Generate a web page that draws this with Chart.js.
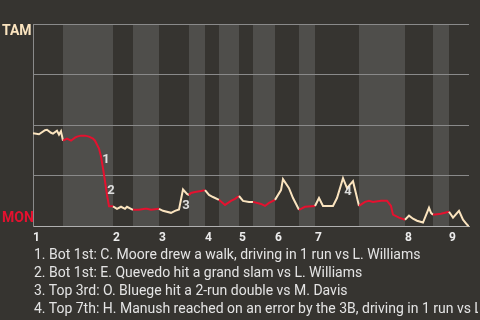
<!DOCTYPE html>
<html>
<head>
<meta charset="utf-8">
<script src="https://cdn.jsdelivr.net/npm/chart.js@4"></script>
<style>
  html, body { margin: 0; padding: 0; background: #363430; width: 480px; height: 320px; overflow: hidden; }
  canvas { display: block; }
  #notes { font-family: Roboto, "Noto Sans", sans-serif; font-size: 14px; line-height: 18px; color: #e4e4e4; padding-left: 34px; white-space: nowrap; overflow: hidden; width: 444px; margin-top: -4px; }
</style>
</head>
<body>
<canvas id="wpChart" width="480" height="249"></canvas>
<div id="notes"></div>
<script>
  // innings, where each half starts (play index)
  const innings = ['1', '2', '3', '4', '5', '6', '7', '8', '9'];
  const topStart = [0, 40, 63, 86, 103, 121, 141, 186, 208];
  const botStart = [15, 50, 78, 93, 110, 133, 163, 200];
  const gameEnd = 218;

  // win expectancy for TAM (%), by play index
  const playX = [0, 3, 6, 7, 9, 10, 12, 13, 14, 15,
    17, 19, 21, 22, 24, 26, 28, 30, 31, 33, 34, 35, 36, 37, 38, 40,
    42, 44, 46, 47, 49, 50,
    53, 56, 57, 59, 63,
    65, 69, 71, 73, 75, 77, 78,
    79, 81, 84, 86,
    88, 90, 93,
    96, 99, 101, 103,
    105, 108, 110,
    114, 116, 118, 121,
    124, 125, 128, 130, 133,
    136, 141,
    143, 145, 150, 152, 155, 157, 160, 163,
    166, 168, 170, 174, 177, 179, 180, 183, 186,
    188, 190, 192, 195, 196, 198, 199, 200,
    204, 206, 208,
    210, 213, 215, 217, 218];
  const winPct = [46.1, 45.6, 47.6, 47.8, 46.3, 45.9, 47.3, 45.4, 47.1, 42.4,
    43.4, 42.4, 43.9, 44.4, 44.9, 44.9, 44.4, 43.4, 42.4, 38.5, 34.6, 28.8, 22.4, 15.6, 10, 10,
    8.8, 9.8, 8.8, 9.8, 8.8, 8.3,
    8.3, 8.8, 8.8, 8.3, 8.8,
    7.8, 6.8, 7.8, 8.5, 18.3, 16.1, 15.6,
    16.6, 17.1, 17.6, 18,
    15.6, 14.6, 13.2,
    10.7, 12.7, 13.7, 15.1,
    12.7, 12.2, 12.2,
    11.2, 10.2, 11.7, 13.2,
    18, 23.4, 19, 14.1, 8.3,
    9.8, 10.2,
    14.1, 10.2, 10.2, 14.1, 23.9, 19, 22.4, 10.2,
    12.2, 12.7, 12.2, 12.7, 12.7, 10.2, 5.9, 4.4, 3.4,
    5.4, 3.9, 2.9, 2, 4.4, 9.3, 6.8, 5.9,
    6.3, 6.8, 7.3,
    4.4, 7.8, 3.4, 1, 0];

  // key plays: label anchor (play index, win %)
  const noteNum = ['1', '2', '3', '4'];
  const noteX = [36.5, 39, 76.5, 157.5];
  const noteY = [33.2, 17.6, 10.2, 17.1];
  const noteText = [
    'Bot 1st: C. Moore drew a walk, driving in 1 run vs L. Williams',
    'Bot 1st: E. Quevedo hit a grand slam vs L. Williams',
    'Top 3rd: O. Bluege hit a 2-run double vs M. Davis',
    'Top 7th: H. Manush reached on an error by the 3B, driving in 1 run vs L. Williams'
  ];

  const awayColor = '#fbe4bf';
  const homeColor = '#e5112f';

  const isBottom = (x) => botStart.some((b, i) => x >= b && x < (topStart[i + 1] ?? gameEnd));

  const halfBands = {
    id: 'halfBands',
    beforeDraw(chart) {
      const { ctx, chartArea: a, scales: { x } } = chart;
      ctx.save();
      ctx.fillStyle = '#4f4e4b';
      botStart.forEach((b, i) => {
        const x0 = x.getPixelForValue(b);
        const x1 = x.getPixelForValue(topStart[i + 1] ?? gameEnd);
        ctx.fillRect(x0, a.top, x1 - x0, a.bottom - a.top);
      });
      ctx.restore();
    },
    afterDatasetsDraw(chart) {
      const { ctx, chartArea: a, scales: { x, y } } = chart;
      ctx.save();
      ctx.textBaseline = 'middle';
      ctx.font = 'bold 14px Roboto, sans-serif';
      ctx.fillStyle = awayColor;
      ctx.fillText('TAM', 2, a.top + 7);
      ctx.fillStyle = homeColor;
      ctx.fillText('MON', 2, a.bottom - 8);
      ctx.textAlign = 'center';
      ctx.font = 'bold 13px Roboto, sans-serif';
      ctx.fillStyle = 'rgba(238,238,238,0.9)';
      noteNum.forEach((n, i) => ctx.fillText(n, x.getPixelForValue(noteX[i]), y.getPixelForValue(noteY[i])));
      ctx.restore();
    }
  };

  document.getElementById('notes').innerHTML =
    noteText.map((t, i) => `<div>${noteNum[i]}. ${t}</div>`).join('');

  const wpCtx = document.getElementById('wpChart').getContext('2d');
  new Chart(wpCtx, {
    type: 'line',
    data: {
      datasets: [{
        data: playX.map((v, i) => ({ x: v, y: winPct[i] })),
        borderWidth: 2,
        pointRadius: 0,
        tension: 0,
        borderColor: awayColor,
        segment: {
          borderColor: (c) => isBottom((c.p0.parsed.x + c.p1.parsed.x) / 2) ? homeColor : awayColor
        }
      }]
    },
    options: {
      responsive: false,
      animation: false,
      layout: { padding: { left: 33, right: 11, top: 24, bottom: 0 } },
      scales: {
        x: {
          type: 'linear',
          min: 0,
          max: gameEnd,
          grid: { display: false, drawTicks: false },
          border: { display: true, color: '#b0b0b0' },
          afterBuildTicks: (axis) => { axis.ticks = topStart.map(v => ({ value: v })); },
          ticks: {
            align: 'start',
            padding: 4,
            maxRotation: 0,
            autoSkip: false,
            color: '#ececec',
            font: { family: 'Roboto', size: 12, weight: 'bold' },
            callback: (v) => innings[topStart.indexOf(v)]
          }
        },
        y: {
          min: 0,
          max: 100,
          ticks: { display: false, stepSize: 25 },
          grid: { color: '#8a8a8a', drawTicks: false },
          border: { display: true, color: '#8a8a8a' }
        }
      },
      plugins: {
        legend: { display: false },
        tooltip: { enabled: false }
      }
    },
    plugins: [halfBands]
  });
</script>
</body>
</html>
